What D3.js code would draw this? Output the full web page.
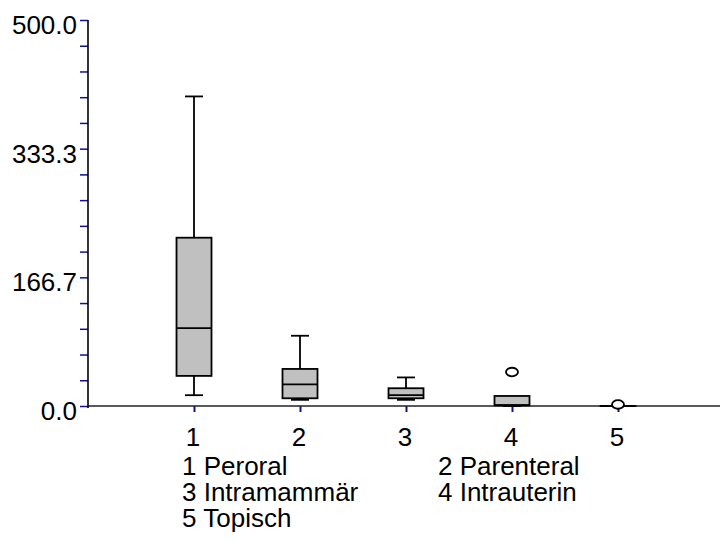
<!DOCTYPE html>
<html><head><meta charset="utf-8">
<script src="https://cdn.jsdelivr.net/npm/d3@7"></script>
<style>body{margin:0;background:#fff}svg{display:block}text{font-family:"Liberation Sans",Arial,sans-serif;fill:#000}</style>
</head><body>
<svg id="c" width="720" height="542"></svg>
<script>
const categories = ["1", "2", "3", "4", "5"];
const legendLabels = ["1 Peroral", "2 Parenteral", "3 Intramammär", "4 Intrauterin", "5 Topisch"];
const whiskerLow = [14, 8, 8, 0, 0];
const q1 = [39, 10, 10, 1, 0];
const median = [101, 28, 14, 1, 0];
const q3 = [218, 48, 23, 13, 0];
const whiskerHigh = [401, 91, 37, 13, 0];
const outliers = [[], [], [], [44], [2]];
const yTickValues = d3.range(0, 16).map(i => i * 500 / 15);
const yLabelValues = [0, 500 / 3, 1000 / 3, 500];

const svg = d3.select("#c");
const x = d3.scaleLinear().domain([0, 6]).range([88, 724]);
const y = d3.scaleLinear().domain([0, 500]).range([406, 20]);
const boxW = 35, capW = 18;

// y axis ticks (minor + major, all same length)
const yAxis = d3.axisLeft(y).tickValues(yTickValues).tickSize(8).tickFormat("");
const ya = svg.append("g").attr("transform", "translate(88,0)").call(yAxis);
ya.select(".domain").remove();
ya.selectAll(".tick line").attr("stroke", "#10109a").attr("stroke-width", 1.5);
// y labels
svg.append("g").selectAll("text").data(yLabelValues).join("text")
  .attr("x", 77).attr("y", d => y(d) + 14)
  .attr("text-anchor", "end").attr("font-size", 26)
  .text(d => d3.format(".1f")(d));

// x axis ticks
const xAxis = d3.axisBottom(x).tickValues(categories.map((c, i) => i + 1)).tickSize(6).tickFormat("");
const xa = svg.append("g").attr("transform", "translate(0,406)").call(xAxis);
xa.select(".domain").remove();
xa.selectAll(".tick line").attr("stroke", "#10109a").attr("stroke-width", 2);

// axis lines
svg.append("line").attr("x1", 88).attr("x2", 720).attr("y1", y(0)).attr("y2", y(0))
  .attr("stroke", "#222").attr("stroke-width", 1.6);
svg.append("line").attr("x1", 88).attr("x2", 88).attr("y1", y(500)).attr("y2", y(0) + 2)
  .attr("stroke", "#000").attr("stroke-width", 1.6);

// x labels
svg.append("g").selectAll("text").data(categories).join("text")
  .attr("x", (d, i) => x(i + 1) - 1).attr("y", 446)
  .attr("text-anchor", "middle").attr("font-size", 26).text(d => d);

// boxes
const g = svg.append("g");
categories.forEach((c, i) => {
  const cx = x(i + 1);
  const st = {stroke: "#000", "stroke-width": 1.8};
  const line = (x1, y1, x2, y2) => g.append("line").attr("x1", x1).attr("y1", y1).attr("x2", x2).attr("y2", y2)
    .attr("stroke", "#000").attr("stroke-width", 1.8);
  if (whiskerHigh[i] > q3[i]) {
    line(cx, y(whiskerHigh[i]), cx, y(q3[i]));
    line(cx - capW / 2, y(whiskerHigh[i]), cx + capW / 2, y(whiskerHigh[i]));
  }
  if (whiskerLow[i] < q1[i]) {
    line(cx, y(q1[i]), cx, y(whiskerLow[i]));
    line(cx - capW / 2, y(whiskerLow[i]), cx + capW / 2, y(whiskerLow[i]));
  }
  g.append("rect").attr("x", cx - boxW / 2).attr("y", y(q3[i]))
    .attr("width", boxW).attr("height", Math.max(0.01, y(q1[i]) - y(q3[i])))
    .attr("fill", "#c0c0c0").attr("stroke", "#000").attr("stroke-width", 1.8);
  line(cx - boxW / 2, y(median[i]), cx + boxW / 2, y(median[i]));
  outliers[i].forEach(v => {
    g.append("ellipse").attr("cx", cx).attr("cy", y(v)).attr("rx", 6).attr("ry", 4.3)
      .attr("fill", "#fff").attr("stroke", "#000").attr("stroke-width", 1.8);
  });
});

// legend
const legX = [182, 438];
svg.append("g").selectAll("text").data(legendLabels).join("text")
  .attr("x", (d, i) => legX[i % 2]).attr("y", (d, i) => 475 + Math.floor(i / 2) * 26)
  .attr("font-size", 26).text(d => d);
</script>
</body></html>
